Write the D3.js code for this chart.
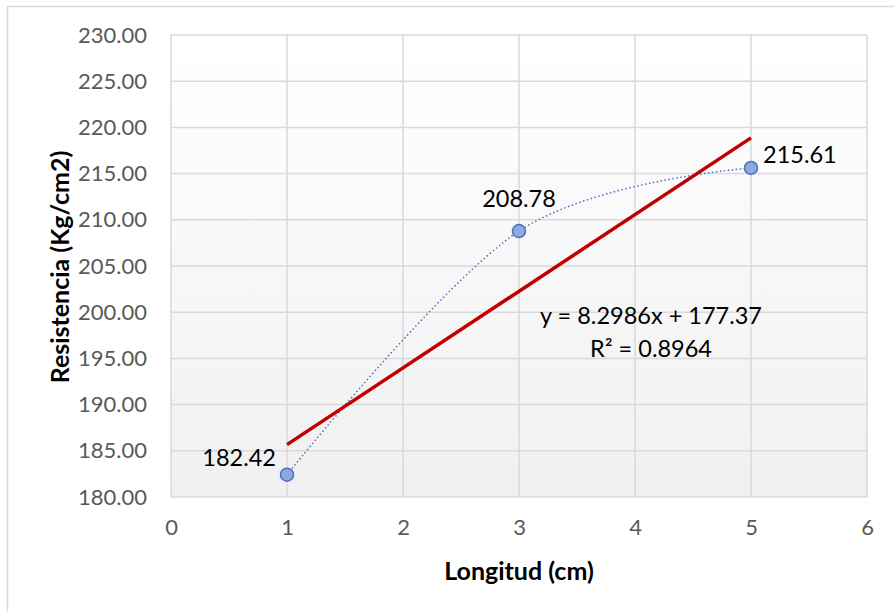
<!DOCTYPE html>
<html>
<head>
<meta charset="utf-8">
<script src="https://cdn.jsdelivr.net/npm/d3@7"></script>
<style>
  body { margin: 0; background: #fff; }
  svg { display: block; font-family: Lato, "Open Sans", sans-serif; }
</style>
</head>
<body>
<svg width="894" height="612"></svg>
<script>
// data
var longitud = [1, 3, 5];
var resistencia = [182.42, 208.78, 215.61];
var pointLabels = ["182.42", "208.78", "215.61"];
var trendSlope = 8.2986;
var trendIntercept = 177.37;
var trendText = ["y = 8.2986x + 177.37", "R\u00b2 = 0.8964"];
var xTicks = [0, 1, 2, 3, 4, 5, 6];
var yTicks = [180, 185, 190, 195, 200, 205, 210, 215, 220, 225, 230];

var svg = d3.select("svg");

// outer chart frame
svg.append("rect")
  .attr("x", 7.5).attr("y", 6.5)
  .attr("width", 900).attr("height", 620)
  .attr("fill", "#fff")
  .attr("stroke", "#d9d9d9")
  .attr("stroke-width", 1.5);

var plotLeft = 171, plotRight = 867, plotTop = 35, plotBottom = 497;

var x = d3.scaleLinear().domain([0, 6]).range([plotLeft, plotRight]);
var y = d3.scaleLinear().domain([180, 230]).range([plotBottom, plotTop]);

var defs = svg.append("defs");
var grad = defs.append("linearGradient")
  .attr("id", "bg").attr("x1", 0).attr("y1", 0).attr("x2", 0).attr("y2", 1);
grad.append("stop").attr("offset", "0%").attr("stop-color", "#ffffff");
grad.append("stop").attr("offset", "100%").attr("stop-color", "#f0f0f0");

svg.append("rect")
  .attr("x", plotLeft).attr("y", plotTop)
  .attr("width", plotRight - plotLeft).attr("height", plotBottom - plotTop)
  .attr("fill", "url(#bg)");

// gridlines
var grid = svg.append("g");
grid.selectAll(".hg").data(yTicks).enter().append("line")
  .attr("x1", plotLeft).attr("x2", plotRight)
  .attr("y1", function (d) { return y(d); })
  .attr("y2", function (d) { return y(d); })
  .attr("stroke", "#d9d9d9").attr("stroke-width", 1.5);
grid.selectAll(".vg").data(xTicks).enter().append("line")
  .attr("y1", plotTop).attr("y2", plotBottom)
  .attr("x1", function (d) { return x(d); })
  .attr("x2", function (d) { return x(d); })
  .attr("stroke", "#d9d9d9").attr("stroke-width", 1.5);

// axes (labels only)
var yAxis = d3.axisLeft(y).tickValues(yTicks).tickSize(0).tickPadding(24)
  .tickFormat(d3.format(".2f"));
var xAxis = d3.axisBottom(x).tickValues(xTicks).tickSize(0).tickPadding(22)
  .tickFormat(d3.format("d"));

var gy = svg.append("g").attr("transform", "translate(" + plotLeft + ",0)").call(yAxis);
var gx = svg.append("g").attr("transform", "translate(0," + plotBottom + ")").call(xAxis);
[gy, gx].forEach(function (g) {
  g.select(".domain").remove();
  g.selectAll("text")
    .attr("fill", "#595959")
    .style("font-size", "22px")
    .style("font-family", "Lato, sans-serif");
});

// axis titles
svg.append("text")
  .attr("transform", "translate(69,267) rotate(-90)")
  .attr("text-anchor", "middle")
  .style("font-size", "25px").style("font-weight", "bold")
  .text("Resistencia (Kg/cm2)");
svg.append("text")
  .attr("x", x(3)).attr("y", 580)
  .attr("text-anchor", "middle")
  .style("font-size", "25px").style("font-weight", "bold")
  .text("Longitud (cm)");

// smoothed dotted series line
var pts = longitud.map(function (d, i) { return [d, resistencia[i]]; });
var line = d3.line()
  .x(function (d) { return x(d[0]); })
  .y(function (d) { return y(d[1]); })
  .curve(d3.curveCardinal.tension(0));
svg.append("path")
  .datum(pts)
  .attr("d", line)
  .attr("fill", "none")
  .attr("stroke", "#4472c4")
  .attr("stroke-width", 1.5)
  .attr("stroke-dasharray", "1.5,2.5");

// linear trendline
var trendX = [longitud[0], longitud[longitud.length - 1]];
svg.append("line")
  .attr("x1", x(trendX[0])).attr("y1", y(trendSlope * trendX[0] + trendIntercept))
  .attr("x2", x(trendX[1])).attr("y2", y(trendSlope * trendX[1] + trendIntercept))
  .attr("stroke", "#c00000")
  .attr("stroke-width", 3.5);

// markers
svg.selectAll(".pt").data(pts).enter().append("circle")
  .attr("cx", function (d) { return x(d[0]); })
  .attr("cy", function (d) { return y(d[1]); })
  .attr("r", 6.5)
  .attr("fill", "#8ea9db")
  .attr("stroke", "#4472c4")
  .attr("stroke-width", 1.5);

// data labels
var labelPos = [
  { dx: -11, dy: -9, anchor: "end" },
  { dx: 0, dy: -24, anchor: "middle" },
  { dx: 12, dy: -5, anchor: "start" }
];
svg.selectAll(".lbl").data(pts).enter().append("text")
  .attr("x", function (d, i) { return x(d[0]) + labelPos[i].dx; })
  .attr("y", function (d, i) { return y(d[1]) + labelPos[i].dy; })
  .attr("text-anchor", function (d, i) { return labelPos[i].anchor; })
  .style("font-size", "23.5px")
  .attr("fill", "#000")
  .text(function (d, i) { return pointLabels[i]; });

// trendline equation
svg.selectAll(".eq").data(trendText).enter().append("text")
  .attr("x", 651)
  .attr("y", function (d, i) { return 324 + i * 33; })
  .attr("text-anchor", "middle")
  .style("font-size", "23.5px")
  .attr("fill", "#000")
  .text(function (d) { return d; });
</script>
</body>
</html>
